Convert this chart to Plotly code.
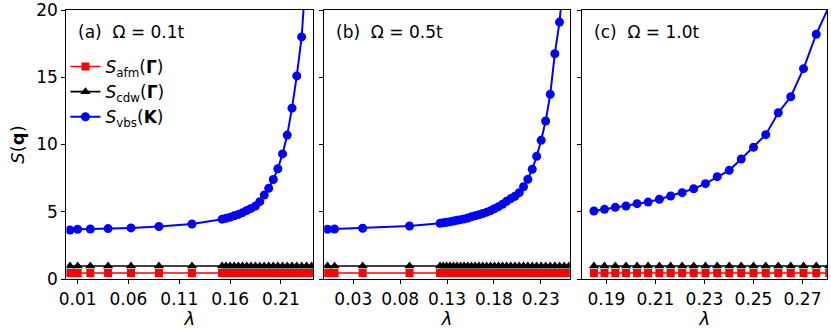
import plotly.graph_objects as go

# panel (a)  Omega = 0.1t
lam_a = [0.0025, 0.01, 0.0225, 0.04, 0.0625, 0.09, 0.1225,
         0.1521, 0.156, 0.16, 0.164, 0.1681, 0.1722, 0.1764, 0.1806, 0.1849,
         0.1892, 0.1936, 0.198, 0.2025, 0.207, 0.2116, 0.2162, 0.2209, 0.2256,
         0.2304, 0.2352, 0.2401, 0.245]
vbs_a = [3.64, 3.70, 3.72, 3.75, 3.80, 3.90, 4.09,
         4.45, 4.52, 4.60, 4.70, 4.80, 4.93, 5.10, 5.25, 5.42,
         5.75, 6.24, 6.74, 7.40, 8.20, 9.30, 10.70, 12.70, 15.10,
         18.00, 22.30, 27.50, 34.00]
cdw_a = [0.97, 0.97, 0.97, 0.97, 0.97, 0.97, 0.97,
         0.97, 0.97, 0.97, 0.97, 0.97, 0.97, 0.97, 0.97, 0.97,
         0.97, 0.97, 0.97, 0.97, 0.97, 0.97, 0.97, 0.97, 0.97,
         0.97, 0.97, 0.97, 0.97]
afm_a = [0.45, 0.45, 0.45, 0.45, 0.45, 0.45, 0.45,
         0.45, 0.45, 0.45, 0.45, 0.45, 0.45, 0.45, 0.45, 0.45,
         0.45, 0.45, 0.45, 0.45, 0.45, 0.45, 0.45, 0.45, 0.45,
         0.45, 0.45, 0.45, 0.45]

# panel (b)  Omega = 0.5t
lam_b = [0.0025, 0.01, 0.04, 0.09,
         0.1225, 0.126, 0.1296, 0.1332, 0.1369, 0.1406, 0.1444, 0.1482, 0.1521, 0.156,
         0.16, 0.164, 0.1681, 0.1722, 0.1764, 0.1806, 0.1849, 0.1892, 0.1936, 0.198,
         0.2025, 0.207, 0.2116, 0.2162, 0.2209, 0.2256, 0.2304, 0.2352, 0.2401, 0.245,
         0.25, 0.255, 0.2601]
vbs_b = [3.70, 3.72, 3.77, 3.94,
         4.14, 4.18, 4.22, 4.26, 4.31, 4.36, 4.41, 4.47, 4.53, 4.62,
         4.70, 4.78, 4.87, 4.97, 5.08, 5.22, 5.38, 5.56, 5.78, 5.98,
         6.15, 6.42, 6.86, 7.41, 8.16, 9.12, 10.31, 11.75, 13.73, 16.75,
         19.10, 22.50, 27.00]
cdw_b = [0.97, 0.97, 0.97, 0.97,
         0.97, 0.97, 0.97, 0.97, 0.97, 0.97, 0.97, 0.97, 0.97, 0.97,
         0.97, 0.97, 0.97, 0.97, 0.97, 0.97, 0.97, 0.97, 0.97, 0.97,
         0.97, 0.97, 0.97, 0.97, 0.97, 0.97, 0.97, 0.97, 0.97, 0.97,
         0.97, 0.97, 0.97]
afm_b = [0.45, 0.45, 0.45, 0.45,
         0.45, 0.45, 0.45, 0.45, 0.45, 0.45, 0.45, 0.45, 0.45, 0.45,
         0.45, 0.45, 0.45, 0.45, 0.45, 0.45, 0.45, 0.45, 0.45, 0.45,
         0.45, 0.45, 0.45, 0.45, 0.45, 0.45, 0.45, 0.45, 0.45, 0.45,
         0.45, 0.45, 0.45]

# panel (c)  Omega = 1.0t
lam_c = [0.1849, 0.1892, 0.1936, 0.198, 0.2025, 0.207, 0.2116, 0.2162, 0.2209, 0.2256,
         0.2304, 0.2352, 0.2401, 0.245, 0.25, 0.255, 0.2601, 0.2652, 0.2704, 0.2756,
         0.2809]
vbs_c = [5.06, 5.18, 5.33, 5.43, 5.60, 5.72, 5.93, 6.17, 6.42, 6.71,
         7.09, 7.61, 8.08, 8.92, 9.79, 10.73, 12.36, 13.55, 15.64, 18.20,
         20.30]
cdw_c = [0.97, 0.97, 0.97, 0.97, 0.97, 0.97, 0.97, 0.97, 0.97, 0.97,
         0.97, 0.97, 0.97, 0.97, 0.97, 0.97, 0.97, 0.97, 0.97, 0.97,
         0.97]
afm_c = [0.45, 0.45, 0.45, 0.45, 0.45, 0.45, 0.45, 0.45, 0.45, 0.45,
         0.45, 0.45, 0.45, 0.45, 0.45, 0.45, 0.45, 0.45, 0.45, 0.45,
         0.45]

panel_labels = ['(a)&nbsp;&nbsp;Ω = 0.1t', '(b)&nbsp;&nbsp;Ω = 0.5t', '(c)&nbsp;&nbsp;Ω = 1.0t']
ticks_a = [0.01, 0.06, 0.11, 0.16, 0.21]
ticks_b = [0.03, 0.08, 0.13, 0.18, 0.23]
ticks_c = [0.19, 0.21, 0.23, 0.25, 0.27]
y_ticks = [0, 5, 10, 15, 20]

names = ['<i>S</i><sub>afm</sub>(<b>Γ</b>)',
         '<i>S</i><sub>cdw</sub>(<b>Γ</b>)',
         '<i>S</i><sub>vbs</sub>(<b>K</b>)']

FONT = 'DejaVu Sans'
W, H = 831, 332

fig = go.Figure()

panels = [
    (lam_a, afm_a, cdw_a, vbs_a, 'x', 'y'),
    (lam_b, afm_b, cdw_b, vbs_b, 'x2', 'y2'),
    (lam_c, afm_c, cdw_c, vbs_c, 'x3', 'y3'),
]
for i, (lam, afm, cdw, vbs, xa, ya) in enumerate(panels):
    show = i == 0
    fig.add_trace(go.Scatter(x=lam, y=afm, mode='lines+markers', name=names[0],
                             line=dict(color='#ff0000', width=1.6),
                             marker=dict(symbol='square', size=8, color='#ff0000'),
                             showlegend=show, xaxis=xa, yaxis=ya))
    fig.add_trace(go.Scatter(x=lam, y=cdw, mode='lines+markers', name=names[1],
                             line=dict(color='black', width=1.6),
                             marker=dict(symbol='triangle-up', size=9, color='black'),
                             showlegend=show, xaxis=xa, yaxis=ya))
    fig.add_trace(go.Scatter(x=lam, y=vbs, mode='lines+markers', name=names[2],
                             line=dict(color='#0000ff', width=2),
                             marker=dict(symbol='circle', size=9, color='#0000ff'),
                             showlegend=show, xaxis=xa, yaxis=ya))

# pixel positions of the three axes boxes
boxes = [(59, 308), (319.3, 567.3), (580, 827)]
top, bottom = 10, 279

common_x = dict(showline=True, linecolor='black', linewidth=1.2, mirror=True,
                ticks='outside', ticklen=4, tickwidth=1, tickcolor='black',
                showgrid=False, zeroline=False,
                tickfont=dict(family=FONT, size=17, color='black'),
                title=dict(text='<i>λ</i>', font=dict(family=FONT, size=18, color='black'),
                           standoff=2))
common_y = dict(showline=True, linecolor='black', linewidth=1.2, mirror=True,
                ticks='outside', ticklen=4, tickwidth=1, tickcolor='black',
                showgrid=False, zeroline=False, range=[0, 20.001], tickvals=y_ticks,
                ticklabeloverflow='allow',
                tickfont=dict(family=FONT, size=17, color='black'),
                domain=[0, 1])

xranges = [[-0.001, 0.2416], [-0.001, 0.261], [0.1802, 0.28]]
xticks = [ticks_a, ticks_b, ticks_c]
lay = {}
for i in range(3):
    suf = '' if i == 0 else str(i + 1)
    l, r = boxes[i]
    xd = dict(common_x)
    xd.update(domain=[l / W, r / W], range=xranges[i], tickvals=xticks[i],
              ticktext=['%.2f' % v for v in xticks[i]], anchor='y' + suf)
    lay['xaxis' + suf] = xd
    yd = dict(common_y)
    yd.update(anchor='x' + suf, showticklabels=(i == 0))
    if i == 0:
        yd['title'] = dict(text='<i>S</i>(<b>q</b>)',
                           font=dict(family=FONT, size=18, color='black'), standoff=6)
    lay['yaxis' + suf] = yd

fig.update_layout(**lay)

for i in range(3):
    l, r = boxes[i]
    fig.add_annotation(text=panel_labels[i], xref='paper', yref='paper',
                       x=(l + 10) / W, y=(bottom - 32) / (bottom - top),
                       xanchor='left', yanchor='middle', showarrow=False,
                       font=dict(family=FONT, size=17, color='black'))

fig.update_layout(
    width=W, height=H,
    margin=dict(l=0, r=0, t=top, b=H - bottom),
    paper_bgcolor='white', plot_bgcolor='white',
    font=dict(family=FONT, size=16, color='black'),
    legend=dict(x=58 / W, y=(bottom - 49) / (bottom - top), xanchor='left', yanchor='top',
                bgcolor='rgba(0,0,0,0)', font=dict(family=FONT, size=17, color='black'),
                tracegroupgap=0),
    showlegend=True,
)

fig.write_html('out.html', config={'displayModeBar': False},
               post_script="document.body.style.margin='0';document.body.style.overflow='hidden';")
